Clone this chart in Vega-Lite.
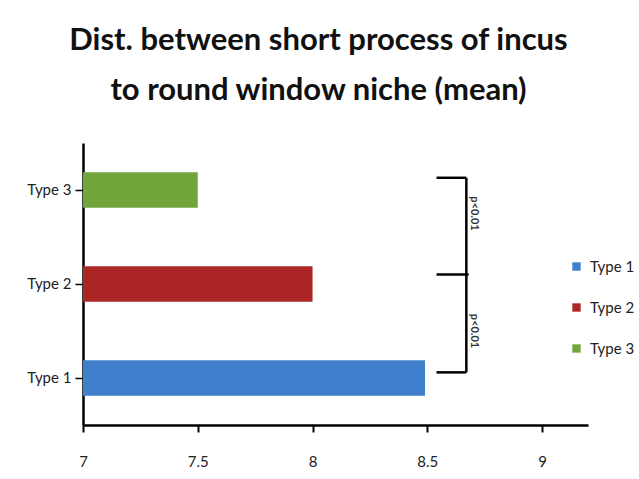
{
  "$schema": "https://vega.github.io/schema/vega-lite/v6.json",
  "width": 505,
  "height": 282,
  "autosize": "none",
  "padding": {"left": 83, "top": 143, "right": 51, "bottom": 54},
  "background": "white",
  "config": {"view": {"stroke": null}, "font": "Lato"},
  "title": {
    "text": ["Dist. between short process  of incus", "to round window niche (mean)"],
    "font": "Lato",
    "fontSize": 31,
    "fontWeight": "bold",
    "lineHeight": 50,
    "color": "#111111",
    "anchor": "middle",
    "dx": -17,
    "offset": 36
  },
  "datasets": {
    "bars": [
      {"type": "Type 1", "mean": 8.49},
      {"type": "Type 2", "mean": 8.0},
      {"type": "Type 3", "mean": 7.5}
    ],
    "brackets": [
      {"x1": 8.54, "x2": 8.67, "y1": 2.63, "y2": 2.63},
      {"x1": 8.54, "x2": 8.68, "y1": 1.6, "y2": 1.6},
      {"x1": 8.54, "x2": 8.67, "y1": 0.56, "y2": 0.56},
      {"x1": 8.67, "x2": 8.67, "y1": 0.56, "y2": 2.63}
    ],
    "labels": [
      {"x": 8.705, "y": 2.25, "label": "p<0.01"},
      {"x": 8.705, "y": 1.0, "label": "p<0.01"}
    ]
  },
  "layer": [
    {
      "data": {"name": "bars"},
      "mark": {"type": "bar", "clip": true},
      "encoding": {
        "y": {
          "field": "type",
          "type": "nominal",
          "sort": ["Type 3", "Type 2", "Type 1"],
          "scale": {"paddingInner": 0.62, "paddingOuter": 0.31},
          "axis": {
            "title": null,
            "domainColor": "#000000",
            "domainWidth": 2.5,
            "tickColor": "#000000",
            "tickWidth": 1.5,
            "tickSize": 8,
            "labelFont": "Lato",
            "labelFontSize": 15,
            "labelColor": "#222222",
            "labelPadding": 4
          }
        },
        "x": {
          "field": "mean",
          "type": "quantitative",
          "scale": {"domain": [7, 9.2], "zero": false, "nice": false},
          "axis": {
            "title": null,
            "values": [7, 7.5, 8, 8.5, 9],
            "format": "~g",
            "grid": false,
            "domainColor": "#000000",
            "domainWidth": 2.5,
            "tickColor": "#000000",
            "tickWidth": 2,
            "tickSize": 7,
            "labelFont": "Lato",
            "labelFontSize": 15,
            "labelColor": "#222222",
            "labelPadding": 22,
            "labelFlush": false
          }
        },
        "x2": {"datum": 7},
        "color": {
          "field": "type",
          "type": "nominal",
          "scale": {"domain": ["Type 1", "Type 2", "Type 3"], "range": ["#3f7fcc", "#ac2626", "#72a43c"]},
          "legend": {
            "title": null,
            "orient": "none",
            "legendX": 486,
            "legendY": 116,
            "symbolType": "square",
            "symbolSize": 70,
            "symbolStrokeWidth": 0,
            "rowPadding": 25,
            "labelFont": "Lato",
            "labelFontSize": 15,
            "labelColor": "#222222",
            "labelOffset": 6
          }
        }
      }
    },
    {
      "data": {"name": "brackets"},
      "mark": {"type": "rule", "color": "#000000", "strokeWidth": 2.5},
      "encoding": {
        "x": {"field": "x1", "type": "quantitative"},
        "x2": {"field": "x2"},
        "y": {"field": "y1", "type": "quantitative", "scale": {"domain": [0, 3], "nice": false}, "axis": null},
        "y2": {"field": "y2"}
      }
    },
    {
      "data": {"name": "labels"},
      "mark": {"type": "text", "angle": 90, "fontSize": 11, "font": "Lato", "fontWeight": "bold", "color": "#333333"},
      "encoding": {
        "x": {"field": "x", "type": "quantitative"},
        "y": {"field": "y", "type": "quantitative", "scale": {"domain": [0, 3], "nice": false}, "axis": null},
        "text": {"field": "label"}
      }
    }
  ],
  "resolve": {"scale": {"y": "independent"}}
}
